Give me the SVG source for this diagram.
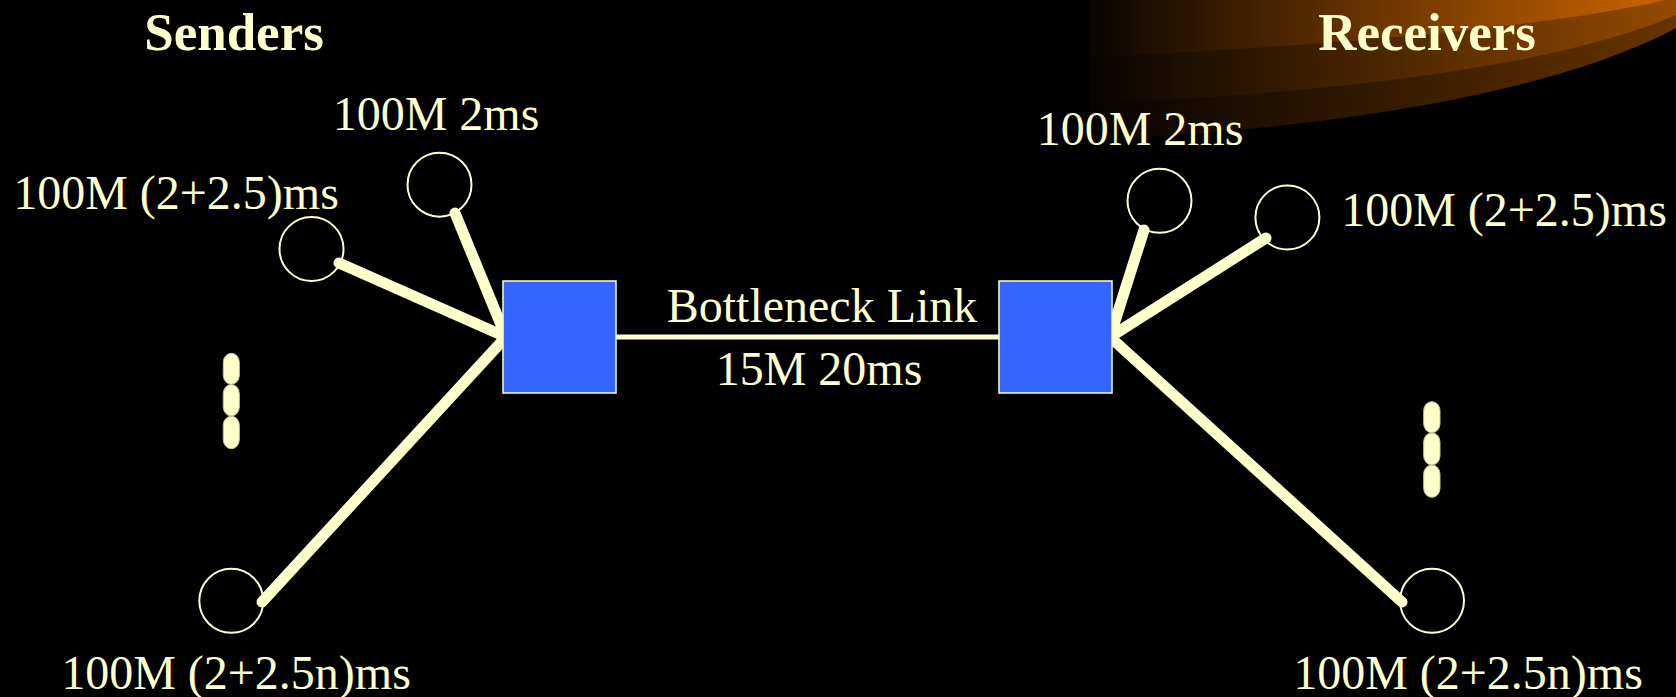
<svg xmlns="http://www.w3.org/2000/svg" width="1676" height="697" viewBox="0 0 1676 697">
<defs>
<style>
.lbl{font-family:"Liberation Serif","Times New Roman",serif;font-size:48px;fill:#FFFFCC;text-anchor:middle}
.ttl{font-family:"Liberation Serif","Times New Roman",serif;font-size:53px;font-weight:bold;fill:#FFFFCC;text-anchor:middle}
.host{fill:none;stroke:#FFFFCC;stroke-width:2}
.router{fill:#3366FF;stroke:#FFFFCC;stroke-width:1.5}
.link{stroke:#FFFFCC;stroke-width:11;stroke-linecap:round;fill:none}
.bneck{stroke:#FFFFCC;stroke-width:5;stroke-linecap:round;fill:none}
.dot{fill:#FFFFCC;stroke:#C8C890;stroke-width:1}
</style>
<linearGradient id="gTop" gradientUnits="userSpaceOnUse" x1="1090" y1="0" x2="1676" y2="0">
<stop offset="0" stop-color="#0A0500"/>
<stop offset="0.5" stop-color="#6E3600"/>
<stop offset="1" stop-color="#CC6600"/>
</linearGradient>
<linearGradient id="gMid" gradientUnits="userSpaceOnUse" x1="1090" y1="0" x2="1676" y2="0">
<stop offset="0" stop-color="#080400"/>
<stop offset="0.5" stop-color="#4C2600"/>
<stop offset="1" stop-color="#944A00"/>
</linearGradient>
<linearGradient id="gBot" gradientUnits="userSpaceOnUse" x1="1090" y1="0" x2="1676" y2="0">
<stop offset="0" stop-color="#060300"/>
<stop offset="0.5" stop-color="#341A00"/>
<stop offset="1" stop-color="#683400"/>
</linearGradient>
</defs>
<rect x="0" y="0" width="1676" height="697" fill="#000000"/>
<g id="swoosh">
<path d="M1090,0 L1676,0 L1676,28 C1560,90 1350,128 1090,140 Z" fill="url(#gBot)"/>
<path d="M1090,0 L1676,0 L1676,15 C1560,65 1350,92 1090,104 Z" fill="url(#gMid)"/>
<path d="M1090,0 L1665,0 C1560,25 1350,45 1090,57 Z" fill="url(#gTop)"/>
</g>
<text class="ttl" x="234" y="50">Senders</text>
<text class="ttl" x="1427" y="50">Receivers</text>
<g id="connectors">
<line class="link" x1="506" y1="337" x2="455" y2="213"/>
<line class="link" x1="506" y1="337" x2="339" y2="263"/>
<line class="link" x1="506" y1="337" x2="262" y2="602"/>
<line class="bneck" x1="616" y1="337" x2="999" y2="337"/>
<line class="link" x1="1110" y1="337" x2="1144" y2="230"/>
<line class="link" x1="1110" y1="337" x2="1266" y2="238"/>
<line class="link" x1="1110" y1="337" x2="1402" y2="602"/>
<text class="lbl" x="822" y="322">Bottleneck Link</text>
<text class="lbl" x="819" y="385">15M 20ms</text>
</g>
<g id="sender1">
<circle class="host" cx="439.5" cy="184.7" r="32"/>
<text class="lbl" x="436" y="130">100M 2ms</text>
</g>
<g id="sender2">
<circle class="host" cx="311.5" cy="249" r="32"/>
<text class="lbl" x="176" y="209">100M (2+2.5)ms</text>
</g>
<g id="senderN">
<circle class="host" cx="231.3" cy="600.8" r="32"/>
<text class="lbl" x="236" y="689">100M (2+2.5n)ms</text>
</g>
<g id="sender-dots">
<rect class="dot" x="223.3" y="353.3" width="16" height="31" rx="8" ry="9"/>
<rect class="dot" x="223.3" y="384.5" width="16" height="31.5" rx="8" ry="9"/>
<rect class="dot" x="223.3" y="416.2" width="16" height="32.5" rx="8" ry="9"/>
</g>
<g id="router-left">
<rect class="router" x="503" y="281" width="113" height="112"/>
</g>
<g id="router-right">
<rect class="router" x="999" y="281" width="113" height="112"/>
</g>
<g id="receiver1">
<circle class="host" cx="1159.5" cy="200.8" r="32"/>
<text class="lbl" x="1140" y="145">100M 2ms</text>
</g>
<g id="receiver2">
<circle class="host" cx="1287.4" cy="217.5" r="32"/>
<text class="lbl" x="1504" y="226">100M (2+2.5)ms</text>
</g>
<g id="receiverN">
<circle class="host" cx="1432" cy="600.8" r="32"/>
<text class="lbl" x="1468" y="689">100M (2+2.5n)ms</text>
</g>
<g id="receiver-dots">
<rect class="dot" x="1423.7" y="401.7" width="16.3" height="31" rx="8" ry="9"/>
<rect class="dot" x="1423.7" y="432.9" width="16.3" height="32" rx="8" ry="9"/>
<rect class="dot" x="1423.7" y="465.1" width="16.3" height="32.2" rx="8" ry="9"/>
</g>
</svg>
